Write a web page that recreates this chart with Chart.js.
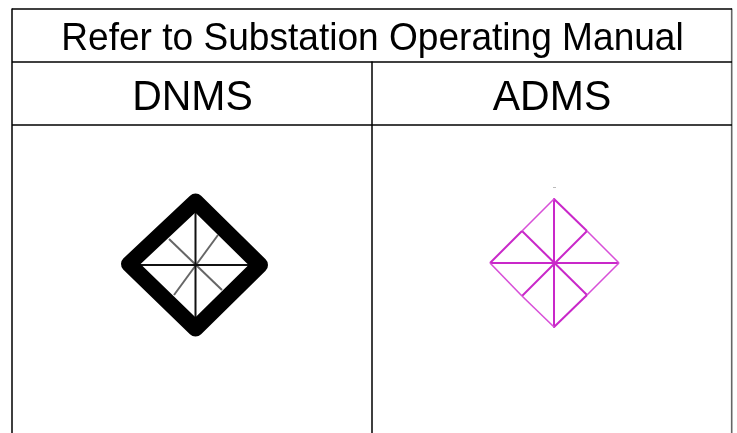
<!DOCTYPE html>
<html><head><meta charset="utf-8">
<style>html,body{margin:0;padding:0;background:#fff}canvas{display:block;filter:blur(0.35px)}</style>
<script src="https://cdn.jsdelivr.net/npm/chart.js@4"></script>
</head><body><canvas id="c" width="737" height="433"></canvas>
<script>
const headerTitle = "Refer to Substation Operating Manual";
const columnNames = ["DNMS", "ADMS"];
const titlePos = [372.5, 50];
const columnPos = [[192.5, 109.5], [552, 109.5]];

const darkTableLines = [
  [[12,9],[732,9]], [[12,62],[732,62]], [[12,125],[732,125]],
  [[12,9],[12,433]], [[372,62],[372,433]]
];
const greyTableLines = [[[731.7,9],[731.7,433]]];
const dnmsDiamond = [[129,264],[195.5,201.5],[260,265],[195.5,328.5],[129,264]];
const dnmsCross = [[[195.5,201],[195.5,329]],[[136,265],[255,265]]];
const dnmsDiagonals = [[[169,239],[222,290]],[[218,235],[174,295]]];
const admsHeavy = [
  [[554,199],[587,231]], [[490,263],[522,231]], [[587,295],[554,327]],
  [[587,231],[522,296]], [[554,199],[554,327]], [[490,263],[619,263]],
  [[522,231],[587,295]]
];
const admsLight = [
  [[554,199],[522,231]], [[587,231],[619,263]], [[619,263],[587,295]],
  [[554,327],[522,296]], [[522,296],[490,263]]
];
const admsTick = [[553,187.5],[556,187.5]];

const pts = a => a.map(p => ({x:p[0], y:p[1]}));
const line = (a, color, w, cap) => ({data:pts(a), showLine:true, borderColor:color, borderWidth:w,
  pointRadius:0, borderCapStyle:cap||'butt', borderJoinStyle:'round', tension:0, clip:false});

const datasets = [
  ...darkTableLines.map(a => line(a,'#000',1.5)),
  ...greyTableLines.map(a => line(a,'#666',1.6)),
  line(dnmsDiamond,'#000',16,'round'),
  ...dnmsCross.map(a => line(a,'#111',2)),
  ...dnmsDiagonals.map(a => line(a,'#666',2)),
  ...admsLight.map(a => line(a,'#d850d8',1.6)),
  ...admsHeavy.map(a => line(a,'#c928c9',2)),
  line(admsTick,'#bbb',1)
];

const drawStretched = (ctx, text, px, py, size) => {
  ctx.save();
  ctx.translate(px, py);
  ctx.scale(1, 1.05);
  ctx.font = size + 'px "Liberation Sans"';
  ctx.fillText(text, 0, 0);
  ctx.restore();
};

const labelPlugin = {
  id:'labels',
  afterDatasetsDraw(chart){
    const {ctx, scales:{x,y}} = chart;
    ctx.save();
    ctx.fillStyle='#000';
    ctx.textAlign='center';
    ctx.textBaseline='alphabetic';
    drawStretched(ctx, headerTitle, x.getPixelForValue(titlePos[0]), y.getPixelForValue(titlePos[1]), 37.1);
    columnNames.forEach((n,i)=>drawStretched(ctx, n, x.getPixelForValue(columnPos[i][0]), y.getPixelForValue(columnPos[i][1]), 41));
    ctx.restore();
  }
};

new Chart(document.getElementById('c'),{
  type:'scatter',
  data:{datasets},
  plugins:[labelPlugin],
  options:{
    responsive:false, animation:false,
    layout:{padding:0},
    plugins:{legend:{display:false},tooltip:{enabled:false},title:{display:false}},
    scales:{
      x:{type:'linear',min:0,max:737,display:false},
      y:{type:'linear',min:0,max:433,reverse:true,display:false}
    }
  }
});
</script></body></html>
